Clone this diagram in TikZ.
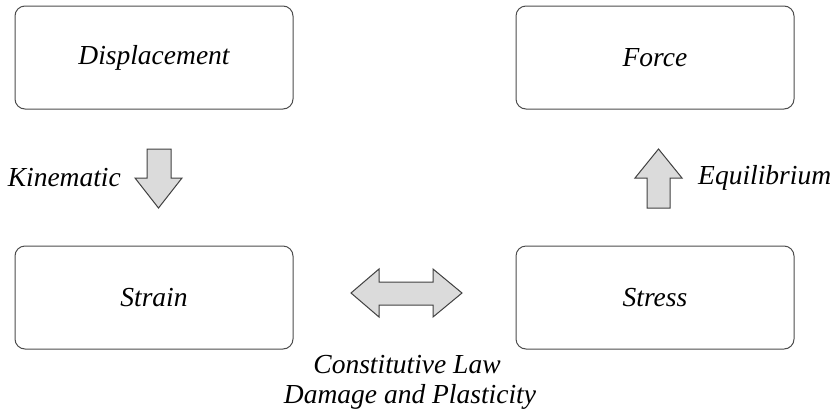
\documentclass[tikz,border=0pt]{standalone}
\usepackage{fontspec}
\setmainfont{Liberation Serif}
\begin{document}
\begin{tikzpicture}[x=1pt,y=-1pt,
  box/.style={draw=black!70,line width=1pt,rounded corners=10pt,minimum width=278pt,minimum height=103pt,inner sep=0pt,font=\fontsize{27.5}{32}\selectfont\itshape},
  lbl/.style={font=\fontsize{27.5}{32}\selectfont\itshape,inner sep=0pt},
  blk/.style={draw=black!75,fill=black!14,line width=1pt,line join=miter}]
\useasboundingbox (0,0) rectangle (837,413);
\node[box] (disp) at (154,57.5) {Displacement};
\node[box] (force) at (655,57.5) {Force};
\node[box] (strain) at (154,297.5) {Strain};
\node[box] (stress) at (655,297.5) {Stress};
% kinematic down arrow
\draw[blk] (147,149) -- (171,149) -- (171,178) -- (182,178) -- (158.5,208) -- (135,178) -- (147,178) -- cycle;
\node[lbl,anchor=east] (kin) at (121,178) {Kinematic};
% equilibrium up arrow
\draw[blk] (647,208) -- (670,208) -- (670,178) -- (682,178) -- (658.5,149) -- (635,178) -- (647,178) -- cycle;
\node[lbl,anchor=west] (equ) at (698,178) {Equilibrium};
% double arrow
\draw[blk] (351,293) -- (379,269) -- (379,282) -- (433,282) -- (433,269) -- (462,293) -- (433,317) -- (433,305) -- (379,305) -- (379,317) -- cycle;
\node[lbl] (cl) at (407,365) {Constitutive Law};
\node[lbl] (dp) at (410,397) {Damage and Plasticity};
\end{tikzpicture}
\end{document}
